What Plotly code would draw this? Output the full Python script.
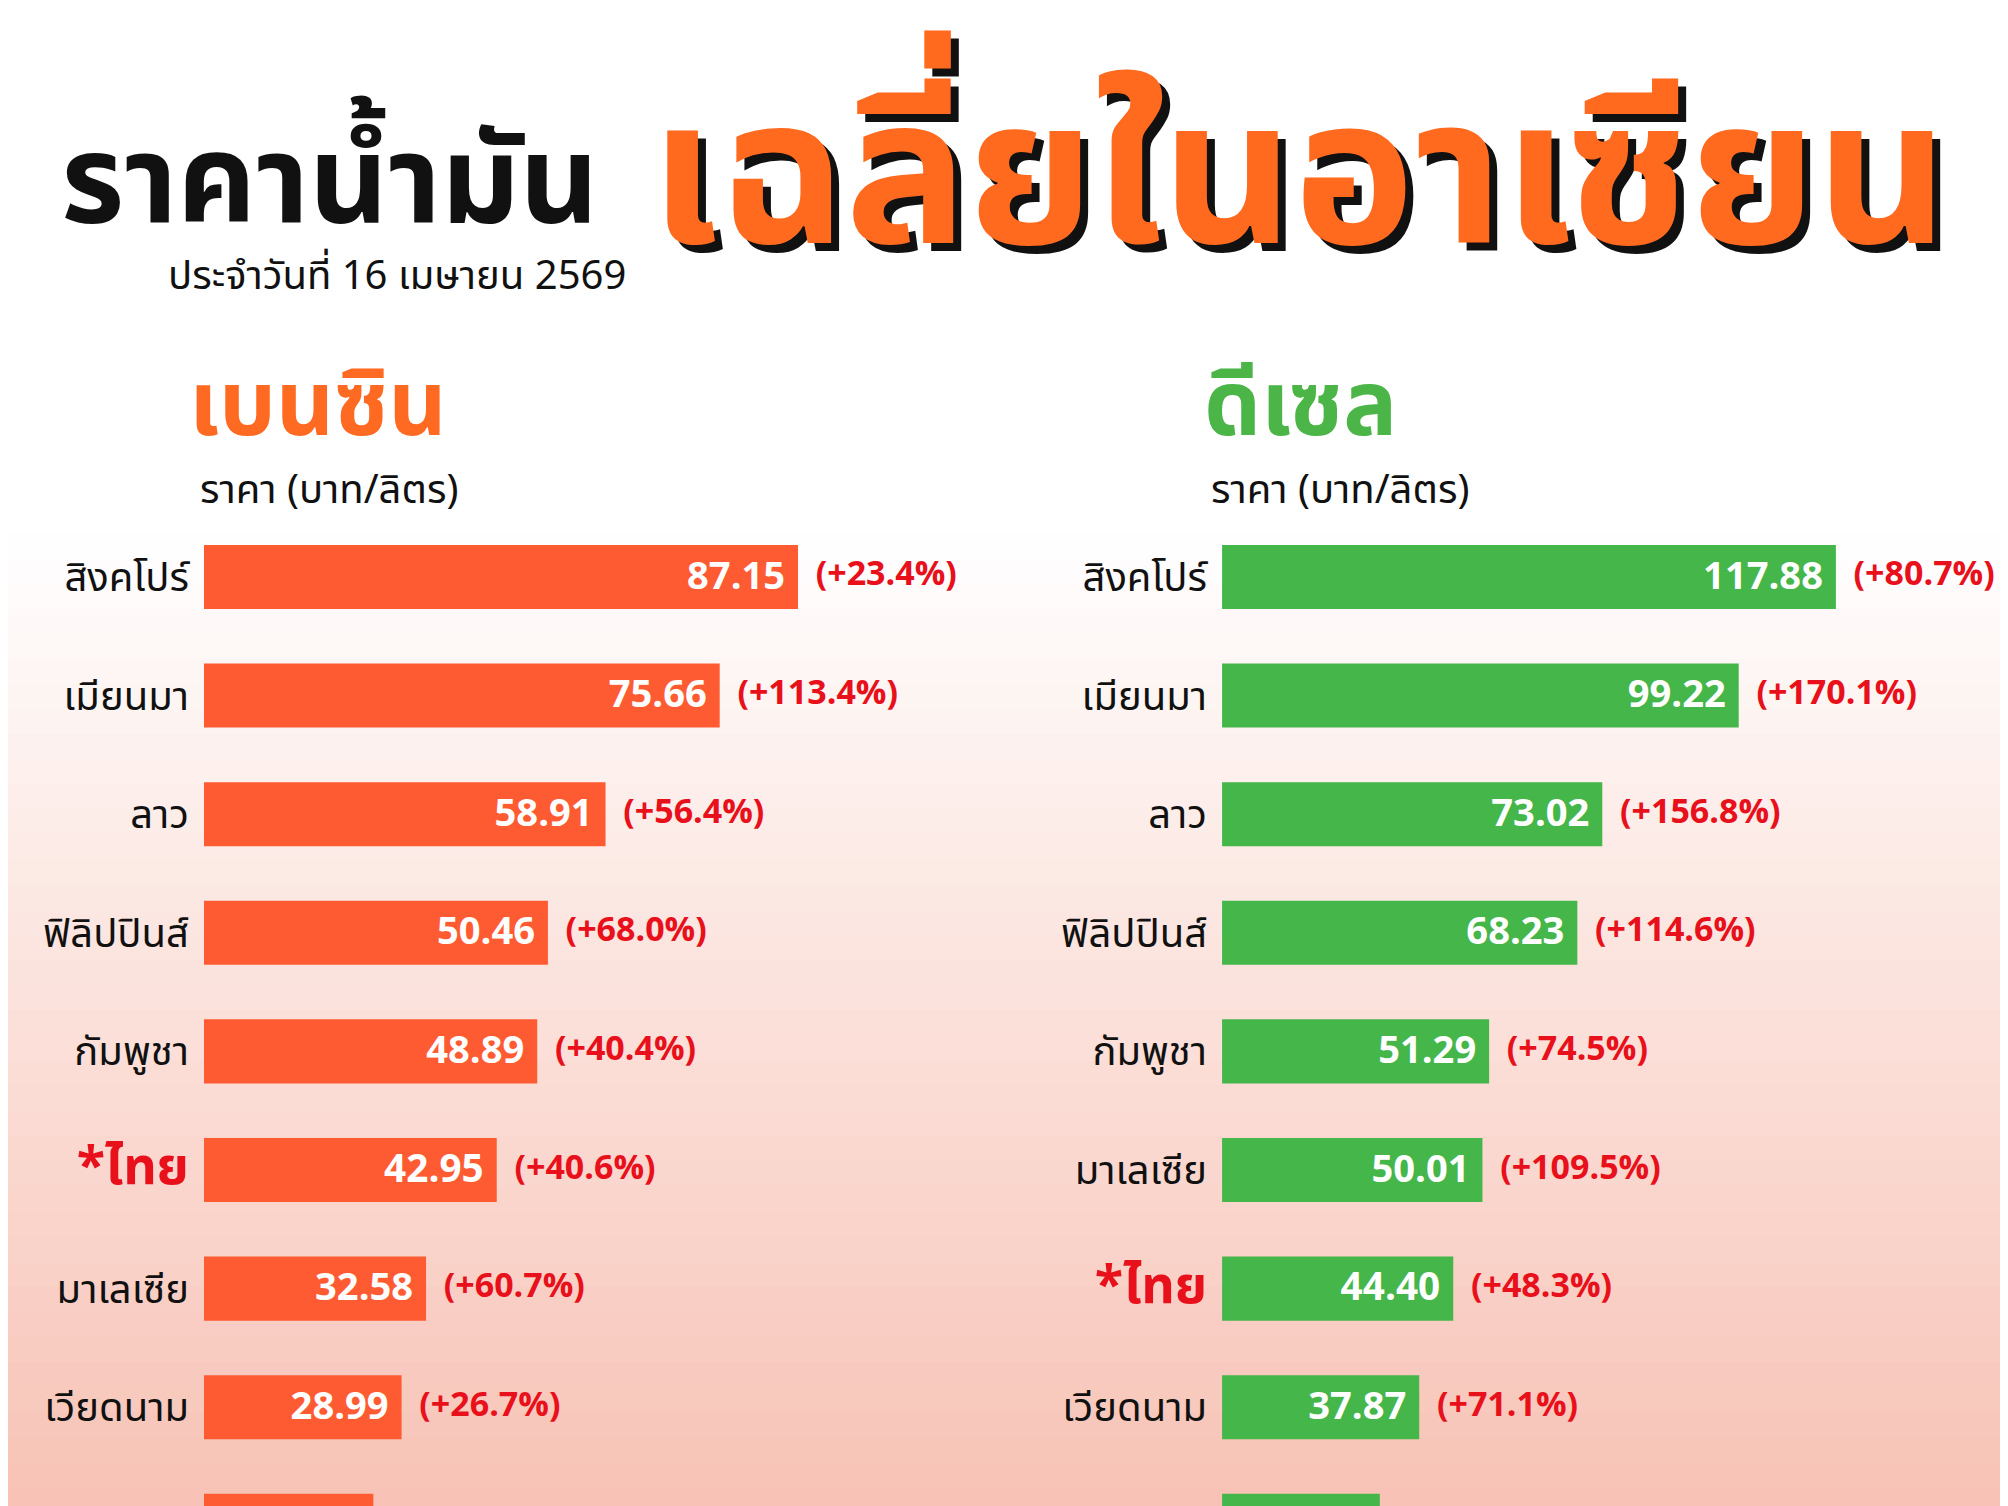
import plotly.graph_objects as go
from plotly.subplots import make_subplots

# benzine (left panel)
benzine_countries = ["สิงคโปร์", "เมียนมา", "ลาว", "ฟิลิปปินส์", "กัมพูชา", "*ไทย", "มาเลเซีย", "เวียดนาม", "อินโดนีเซีย"]
benzine_prices = [87.15, 75.66, 58.91, 50.46, 48.89, 42.95, 32.58, 28.99, 24.85]
benzine_change = [23.4, 113.4, 56.4, 68.0, 40.4, 40.6, 60.7, 26.7, 5.4]

# diesel (right panel)
diesel_countries = ["สิงคโปร์", "เมียนมา", "ลาว", "ฟิลิปปินส์", "กัมพูชา", "มาเลเซีย", "*ไทย", "เวียดนาม", "อินโดนีเซีย"]
diesel_prices = [117.88, 99.22, 73.02, 68.23, 51.29, 50.01, 44.40, 37.87, 30.30]
diesel_change = [80.7, 170.1, 156.8, 114.6, 74.5, 109.5, 48.3, 71.1, 6.3]

FONT = "Noto Sans Thai, Noto Sans, sans-serif"
W, H = 2008, 1506


def ticklabels(names):
    out = []
    for n in names:
        if n.startswith("*"):
            out.append("<b><span style='color:#e8101a;font-size:52px'>" + n + "</span></b>")
        else:
            out.append(n)
    return out


fig = make_subplots(rows=1, cols=2, horizontal_spacing=0.02)

def add_panel(col, names, prices, changes, color):
    idx = list(range(len(names)))
    sizes = [54 if n.startswith("*") else 44 for n in names]
    fig.add_trace(go.Bar(
        x=prices, y=idx, orientation="h", width=0.54,
        marker=dict(color=color, line=dict(width=0)),
        text=["<b>%.2f </b>" % p for p in prices], textposition="inside",
        insidetextanchor="end", textangle=0,
        textfont=dict(color="white", size=sizes, family=FONT),
        cliponaxis=False, showlegend=False), row=1, col=col)
    fig.add_trace(go.Scatter(
        x=prices, y=idx, mode="text",
        text=["  <b>(+%.1f%%)</b>" % c for c in changes],
        textposition="middle right",
        textfont=dict(color="#e8101a", size=34, family=FONT),
        showlegend=False, cliponaxis=False), row=1, col=col)
    fig.update_yaxes(tickvals=idx, ticktext=ticklabels(names), range=[7.9, -0.5],
                     showgrid=False, zeroline=False, ticks="", ticklabelstandoff=14,
                     tickfont=dict(size=40, color="#111", family=FONT), row=1, col=col)

add_panel(1, benzine_countries, benzine_prices, benzine_change, "#ff5b32")
add_panel(2, diesel_countries, diesel_prices, diesel_change, "#45b649")

fig.update_xaxes(visible=False, showgrid=False)
fig.update_layout(
    xaxis=dict(domain=[0.0976, 0.471], range=[0, 110]),
    xaxis2=dict(domain=[0.6046, 0.9936], range=[0, 150]),
    yaxis=dict(domain=[0, 0.6616]),
    yaxis2=dict(domain=[0, 0.6616]),
)

# background gradient white -> pink
n = 60
for i in range(n):
    t = i / (n - 1)
    t2 = max(0, (t - 0.35) / 0.65)
    r = int(255 + (248 - 255) * t2)
    g = int(255 + (195 - 255) * t2)
    b = int(255 + (182 - 255) * t2)
    fig.add_shape(type="rect", xref="paper", yref="paper",
                  x0=-0.02, x1=1.02, y0=1 - (i + 1) / n, y1=1 - i / n + 0.001,
                  fillcolor="rgb(%d,%d,%d)" % (r, g, b), line=dict(width=0), layer="below")

ann = []
ann.append(dict(x=40 / 1568, y=1 - 138 / 1176, text="<b>ราคาน้ำมัน</b>", xanchor="left", yanchor="middle",
                font=dict(size=122, color="#111", family=FONT)))
ann.append(dict(x=484 / 1568, y=1 - 210 / 1176, text="ประจำวันที่ 16 เมษายน 2569", xanchor="right", yanchor="middle",
                font=dict(size=40, color="#111", family=FONT)))
for dx, dy, col in [(6, -6, "#111"), (0, 0, "#ff6a1f")]:
    ann.append(dict(x=(500 + dx) / 1568, y=1 - (135 - dy) / 1176, text="<b>เฉลี่ยในอาเซียน</b>",
                    xanchor="left", yanchor="middle", font=dict(size=204, color=col, family=FONT)))
ann.append(dict(x=140 / 1568, y=1 - 312 / 1176, text="<b>เบนซิน</b>", xanchor="left", yanchor="middle",
                font=dict(size=90, color="#ff6a22", family=FONT)))
ann.append(dict(x=932 / 1568, y=1 - 312 / 1176, text="<b>ดีเซล</b>", xanchor="left", yanchor="middle",
                font=dict(size=90, color="#4cb548", family=FONT)))
for x in (148, 938):
    ann.append(dict(x=x / 1568, y=1 - 377 / 1176, text="ราคา (บาท/ลิตร)", xanchor="left", yanchor="middle",
                    font=dict(size=40, color="#111", family=FONT)))
for a in ann:
    a.update(xref="paper", yref="paper", showarrow=False)

fig.update_layout(
    width=W, height=H, margin=dict(l=0, r=0, t=0, b=0),
    paper_bgcolor="white", plot_bgcolor="rgba(0,0,0,0)",
    annotations=ann, font=dict(family=FONT), bargap=0.5,
)

fig.write_html("out.html")
